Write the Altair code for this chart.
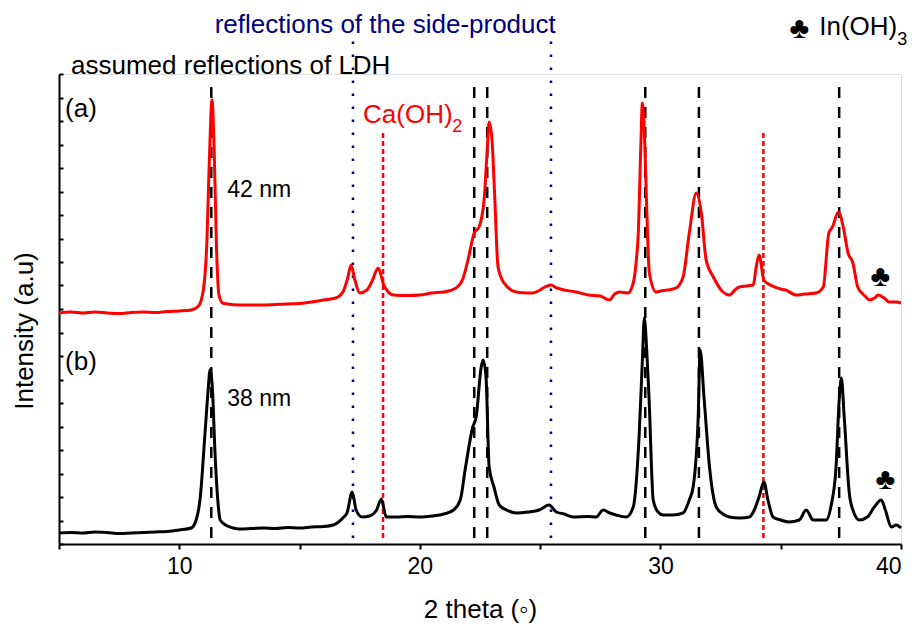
import altair as alt
import pandas as pd

# ---- data (2 theta in degrees, intensity in arbitrary units) ----
red_x = [5.0, 5.5, 6.0, 6.5, 7.0, 7.5, 8.0, 8.5, 9.0, 9.5, 10.0, 10.5, 10.8, 11.0, 11.15, 11.25,
         11.36, 11.45, 11.55, 11.65, 11.8, 12.0, 12.5, 13.0, 13.5, 14.0, 14.5, 15.0, 15.5, 16.0,
         16.5, 16.8, 17.0, 17.14, 17.3, 17.5, 17.8, 18.0, 18.27, 18.5, 18.9, 19.5, 20.0, 20.5,
         21.0, 21.5, 21.8, 22.0, 22.26, 22.46, 22.67, 22.8, 22.88, 23.0, 23.1, 23.25, 23.5, 24.0,
         24.5, 24.7, 25.0, 25.2, 25.45, 25.7, 26.0, 26.5, 27.0, 27.5, 27.87, 28.1, 28.3, 28.65,
         28.87, 29.0, 29.08, 29.18, 29.25, 29.33, 29.42, 29.54, 29.82, 30.0, 30.3, 30.65, 30.94,
         31.2, 31.49, 31.7, 31.9, 32.2, 32.6, 32.86, 33.1, 33.27, 33.86, 33.98, 34.1, 34.3, 34.5,
         35.0, 35.2, 35.65, 36.0, 36.47, 36.77, 37.0, 37.15, 37.4, 37.6, 37.8, 38.0, 38.2, 38.5,
         38.7, 38.9, 39.05, 39.3, 39.5, 39.8, 40.0]
red_y = [231, 232, 231, 232, 231, 230.5, 231.5, 232, 231.5, 232.5, 233, 234, 238, 254, 304, 384,
         444, 394, 294, 249, 241, 240, 239, 239, 239, 239.5, 240, 240.5, 242, 244,
         246, 252, 266, 279, 264, 251, 254, 262, 276, 259, 249, 248.5, 249, 251,
         252, 256, 266, 284, 311, 317, 344, 394, 422, 404, 354, 277, 261, 252,
         251, 251, 254, 257, 259, 256, 254, 252, 249, 248, 244, 250, 252, 251,
         261, 284, 311, 394, 441, 414, 344, 271, 252, 253, 254, 256, 267,
         311, 351, 331, 284, 267, 252, 249, 254, 257, 259, 277, 289, 264, 260,
         255, 254, 249, 250, 251, 257, 311, 317, 332, 317, 291, 281, 257, 248,
         244, 246, 249, 246, 242, 242, 241]

black_x = [5.0, 5.5, 6.0, 6.5, 7.0, 7.5, 8.0, 8.5, 9.0, 9.5, 10.0, 10.5, 10.7, 10.86, 11.07, 11.2,
           11.28, 11.38, 11.48, 11.6, 11.7, 12.0, 12.24, 12.5, 13.0, 13.5, 14.0, 14.5, 15.0, 15.5,
           16.0, 16.4, 16.8, 16.97, 17.19, 17.35, 17.6, 17.9, 18.2, 18.4, 18.6, 19.0, 19.5, 20.0,
           20.5, 21.0, 21.4, 21.68, 21.9, 22.2, 22.34, 22.55, 22.63, 22.75, 22.88, 23.08, 23.3,
           23.6, 24.0, 24.5, 24.96, 25.37, 25.67, 26.0, 26.37, 27.0, 27.33, 27.62, 27.9, 28.16,
           28.58, 28.87, 29.12, 29.25, 29.33, 29.43, 29.53, 29.7, 29.9, 30.11, 30.5, 30.94, 31.2,
           31.36, 31.57, 31.65, 31.82, 32.04, 32.32, 32.6, 32.86, 33.3, 33.7, 33.9, 34.1, 34.3,
           34.47, 34.68, 35.0, 35.35, 35.77, 36.06, 36.35, 36.89, 37.1, 37.3, 37.43, 37.52, 37.64,
           37.85, 38.0, 38.27, 38.6, 38.89, 39.18, 39.35, 39.6, 39.8, 40.0]
black_y = [11, 11.5, 11, 12, 11.5, 10.5, 11, 11.5, 12, 12.5, 14, 16, 24, 44, 111, 154,
           174, 154, 94, 44, 24, 18, 16, 15, 15.5, 16, 15.5, 16.5, 16, 17,
           17.5, 19, 26, 31, 52, 34, 27, 28, 34, 45, 27, 27, 27.5, 27,
           28, 30, 34, 44, 77, 117, 127, 177, 184, 167, 77, 57, 39,
           34, 31, 32, 34, 39, 32, 30, 27, 27.5, 27, 34, 31, 29,
           27, 37, 111, 184, 226, 194, 144, 44, 32, 29, 29, 31, 44,
           57, 127, 194, 144, 77, 37, 30, 27, 26, 27, 34, 47, 62,
           44, 27, 24, 22, 24, 34, 24, 24, 39, 77, 144, 166, 127,
           51, 34, 24, 27, 37, 44, 34, 17, 19, 16]

ldh_x = [11.33, 22.26, 22.8, 29.37, 31.6, 37.43]      # assumed LDH reflections
side_x = [17.22, 25.45]                               # side-product reflections
caoh_x = [18.47, 34.28]                               # Ca(OH)2 reflections

x_ticks = [5, 10, 15, 20, 25, 30, 35, 40]
y_ticks = [i * 23.5 for i in range(21)]

FONT = "Arial, Liberation Sans, Helvetica, sans-serif"

traces = pd.concat([
    pd.DataFrame({"theta": red_x, "I": red_y, "sample": "(a)"}),
    pd.DataFrame({"theta": black_x, "I": black_y, "sample": "(b)"}),
])

xs = alt.Scale(domain=[5, 40], nice=False, zero=False)
ys = alt.Scale(domain=[0, 470], nice=False, zero=False)

base_x = alt.X("theta:Q", scale=xs,
               axis=alt.Axis(values=x_ticks, tickCount=20,
                             labelExpr="(datum.value % 10 === 0 && datum.value > 5) ? datum.label : ''",
                             tickSize=5, tickWidth=2, tickColor="black",
                             domainWidth=2, domainColor="black",
                             labelFontSize=23, labelFont=FONT, labelColor="black",
                             labelPadding=6, grid=False,
                             title="2 theta (\u25e6)", titleFont=FONT, titleFontSize=26,
                             titleFontWeight="normal", titleColor="black",
                             titleY=73, titleBaseline="alphabetic"))
base_y = alt.Y("I:Q", scale=ys,
               axis=alt.Axis(orient="right", offset=-842, values=y_ticks, tickCount=30,
                             labels=False,
                             tickSize=4, tickWidth=2, tickColor="black", tickRound=True,
                             domainWidth=2, domainColor="black", grid=False, title=None))

lines = alt.Chart(traces).mark_line(strokeWidth=3, interpolate="monotone").encode(
    x=base_x, y=base_y,
    color=alt.Color("sample:N", scale=alt.Scale(domain=["(a)", "(b)"], range=["#ff0000", "#000000"]),
                    legend=None),
    detail="sample:N",
)

ldh = alt.Chart(pd.DataFrame({"theta": ldh_x, "y0": 6, "y1": 462})).mark_rule(
    color="black", strokeWidth=2.5, strokeDash=[11, 9]).encode(
    x=alt.X("theta:Q", scale=xs), y=alt.Y("y0:Q", scale=ys), y2="y1:Q")
side = alt.Chart(pd.DataFrame({"theta": side_x, "y0": 6, "y1": 505})).mark_rule(
    color="#000080", strokeWidth=2.5, strokeDash=[2.5, 10.5]).encode(
    x=alt.X("theta:Q", scale=xs), y=alt.Y("y0:Q", scale=ys), y2="y1:Q")
caoh = alt.Chart(pd.DataFrame({"theta": caoh_x, "y0": 6, "y1": 411})).mark_rule(
    color="#ff0000", strokeWidth=2.5, strokeDash=[5, 3]).encode(
    x=alt.X("theta:Q", scale=xs), y=alt.Y("y0:Q", scale=ys), y2="y1:Q")


def label(xv, yv, txt, color="black", size=26, align="left", baseline="alphabetic"):
    return alt.Chart(pd.DataFrame({"theta": [xv], "I": [yv], "t": [txt]})).mark_text(
        font=FONT, fontSize=size, color=color, align=align, baseline=baseline).encode(
        x=alt.X("theta:Q", scale=xs), y=alt.Y("I:Q", scale=ys), text="t:N")


texts = [
    label(18.56, 511, "reflections of the side-product", color="#000080", align="center"),
    label(5.5, 470, "assumed reflections of LDH"),
    label(5.25, 427, "(a)"),
    label(11.99, 347, "42 nm", size=23),
    label(17.64, 421, "Ca(OH)", color="#ff0000"),
    label(21.35, 412, "2", color="#ff0000", size=18),
    label(5.25, 174, "(b)"),
    label(11.99, 138, "38 nm", size=23),
    label(35.77, 515, "\u2663", size=30, align="center", baseline="middle"),
    label(36.6, 509, "In(OH)"),
    label(39.84, 499, "3", size=18),
    label(39.14, 267, "\u2663", size=30, align="center", baseline="middle"),
    label(39.35, 64, "\u2663", size=30, align="center", baseline="middle"),
]

ytitle = alt.Chart(pd.DataFrame({"t": ["Intensity (a.u)"]})).mark_text(
    font=FONT, fontSize=26, color="black", angle=270, align="center", baseline="alphabetic").encode(
    x=alt.value(-26), y=alt.value(257), text="t:N")

chart = alt.layer(ldh, side, caoh, lines, *texts, ytitle).properties(
    width=842, height=470,
    autosize=alt.AutoSizeParams(type="none"),
    padding={"left": 51, "top": 66, "right": 7, "bottom": 79},
).configure_view(strokeWidth=0).configure(background="white")

chart.save("out.html", embed_options={"renderer": "svg", "actions": False})
